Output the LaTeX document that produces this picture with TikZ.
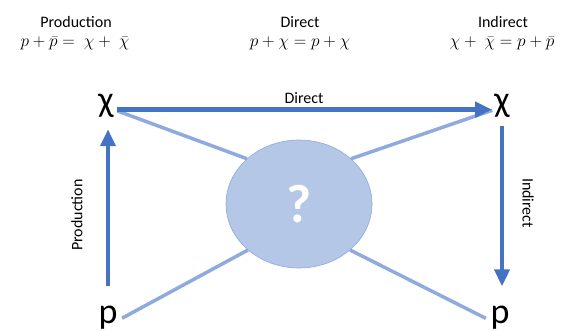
\documentclass[tikz,border=0pt]{standalone}
\usepackage{fontspec}
\setmainfont{Carlito}
\usepackage{tikz}
\usetikzlibrary{shapes.geometric,arrows.meta,positioning,calc}

\definecolor{arrowblue}{HTML}{4472C4}
\definecolor{legblue}{HTML}{8FAADC}
\definecolor{blobfill}{HTML}{B4C7E7}

\begin{document}
\begin{tikzpicture}[x=1pt, y=-1pt,
      particle/.style = {font=\fontsize{36}{36}\selectfont, inner sep=0pt, anchor=base},
      title/.style    = {font=\fontsize{16}{18}\selectfont, anchor=base},
      formula/.style  = {font=\fontsize{18.5}{20}\selectfont, anchor=base},
      lbl/.style      = {font=\fontsize{16}{16}\selectfont, inner sep=0pt, text=black},
      arrow/.style    = {-{Triangle[length=17pt,width=15pt]}, line width=4.5pt, arrowblue},
      leg/.style      = {line width=3.5pt, legblue},
      blob/.style     = {ellipse, fill=blobfill, draw=legblue, line width=0.6pt,
                         minimum width=146pt, minimum height=128pt, inner sep=0pt,
                         text=white, font=\fontsize{54}{54}\selectfont\bfseries}
    ]
    \useasboundingbox (0,0) rectangle (564,331);

    % headings
    \node[title]   (prodT) at (76,28)  {Production};
    \node[formula] (prodF) at (75,47)  {$p+\bar{p}=\ \chi+\ \bar{\chi}$};
    \node[title]   (dirT)  at (300,28) {Direct};
    \node[formula] (dirF)  at (300,47) {$p+\chi=p+\chi$};
    \node[title]   (indT)  at (503,28) {Indirect};
    \node[formula] (indF)  at (502,47) {$\chi+\ \bar{\chi}=p+\bar{p}$};

    % particles
    \node[particle] (chiL) at (106,112) {χ};
    \node[particle] (chiR) at (502,112) {χ};
    \node[particle] (pL)   at (108,323) {p};
    \node[particle] (pR)   at (500,323) {p};

    \node[blob] (blob) at (299,204) {?};

    % legs into the blob
    \draw[leg, shorten <=4pt] (chiL.mid east) -- (blob.139);
    \draw[leg, shorten <=5pt] (pL.mid east)   -- (blob.222);
    \draw[leg, shorten <=2pt] (chiR.mid west) -- (blob.41);
    \draw[leg, shorten <=5pt] (pR.mid west)   -- (blob.318);

    % channels
    \draw[arrow, shorten <=3pt, shorten >=2pt] (chiL.mid east)
        -- node[lbl, above=4pt] (dirL) {Direct} (chiR.mid west);
    \draw[arrow, shorten <=19pt, shorten >=11pt] (pL.north) -- (pL.north |- chiL.south);
    \draw[arrow, shorten <=8pt, shorten >=19pt] (chiR.south) -- (chiR.south |- pR.north);

    \node[lbl, rotate=90]  (prodL) at (77,215)  {Production};
    \node[lbl, rotate=-90] (indL)  at (528,203) {Indirect};
  \end{tikzpicture}
\end{document}
